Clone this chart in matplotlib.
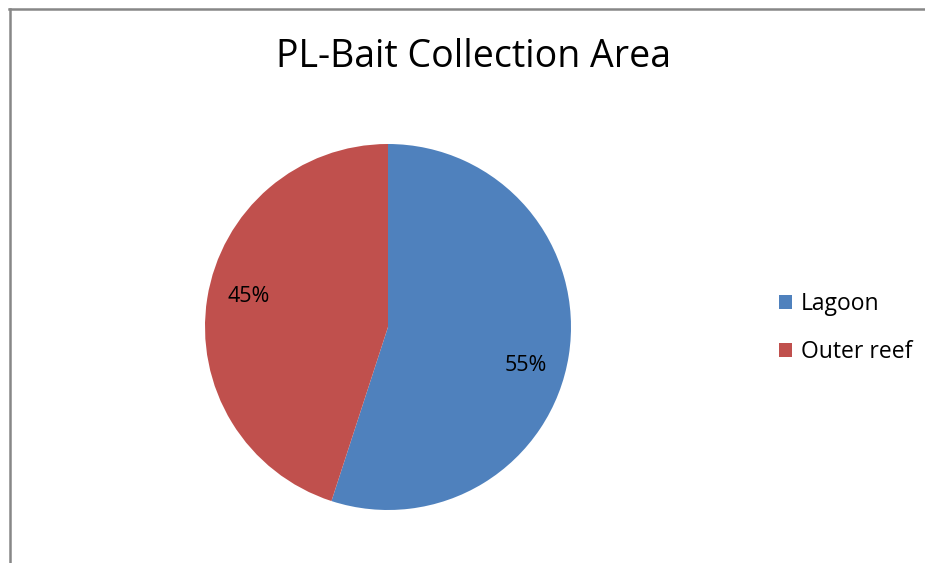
import matplotlib
matplotlib.use("Agg")
import numpy as np
import matplotlib.pyplot as plt
from matplotlib.lines import Line2D

plt.rcParams['font.family'] = ['Open Sans', 'DejaVu Sans']

title = 'PL-Bait Collection Area'
labels = ['Lagoon', 'Outer reef']
shares = [55, 45]
colors = ['#4F81BD', '#C0504D']
label_shift = [-6.5, -3.5]   # degrees, Excel's best-fit nudges the labels a bit

W, H = 925, 563
fig = plt.figure(figsize=(W / 100, H / 100), dpi=100)

# chart border (only top and left edges are visible in the crop)
fig.add_artist(Line2D([9 / W, 1], [1 - 9 / H, 1 - 9 / H], color='#878787', lw=1.8))
fig.add_artist(Line2D([9.5 / W, 9.5 / W], [0, 1 - 9 / H], color='#878787', lw=1.8))

# pie area: centre (388, 327), radius 183 px
cx, cy, r = 388, 327, 183
ax = fig.add_axes([(cx - r) / W, (H - cy - r) / H, 2 * r / W, 2 * r / H])
wedges, texts, autotexts = ax.pie(shares, colors=colors, startangle=90, counterclock=False,
                                  autopct='%1.0f%%', pctdistance=0.78,
                                  textprops={'fontsize': 15.5, 'color': 'black'})
for w, t, s in zip(wedges, autotexts, label_shift):
    a = np.deg2rad((w.theta1 + w.theta2) / 2 + s)
    t.set_position((0.78 * np.cos(a), 0.78 * np.sin(a)))
ax.set_xlim(-1, 1)
ax.set_ylim(-1, 1)
ax.set_aspect('equal')
ax.axis('off')

fig.text(474 / W, 1 - 67 / H, title, ha='center', va='baseline', fontsize=27)

fig.legend(wedges, labels, loc='upper left', bbox_to_anchor=(779 / W, 1 - 292 / H),
           frameon=False, fontsize=16.5, handlelength=0.55, handleheight=0.55,
           handletextpad=0.4, labelspacing=1.05, borderaxespad=0, borderpad=0)

fig.savefig('out.png', dpi=100)
